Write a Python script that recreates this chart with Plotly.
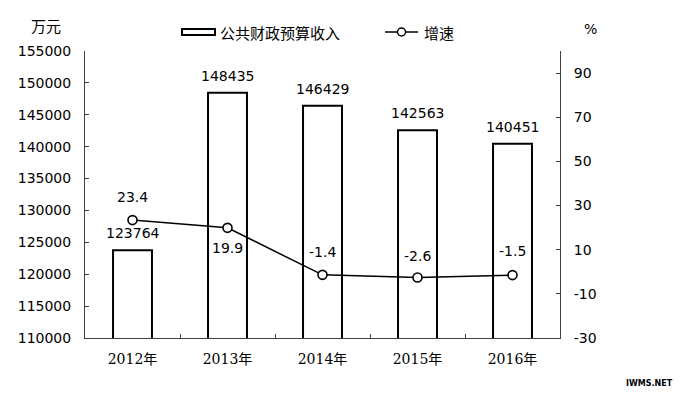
import plotly.graph_objects as go

categories = ["2012年", "2013年", "2014年", "2015年", "2016年"]
revenue = [123764, 148435, 146429, 142563, 140451]
growth = [23.4, 19.9, -1.4, -2.6, -1.5]
left_ticks = [110000, 115000, 120000, 125000, 130000, 135000, 140000, 145000, 150000, 155000]
right_ticks = [-30, -10, 10, 30, 50, 70, 90]

NUM_FONT = "DejaVu Sans, Liberation Sans, Arial, sans-serif"
CJK_FONT = "Noto Sans CJK SC, sans-serif"
CAT_FONT = "DejaVu Serif, Noto Sans CJK SC, serif"

fig = go.Figure()
fig.add_trace(go.Bar(
    x=categories, y=revenue, width=0.41,
    marker=dict(color="white", line=dict(color="black", width=2)),
    showlegend=False, hoverinfo="skip",
))
fig.add_trace(go.Scatter(
    x=categories, y=growth, yaxis="y2", mode="lines+markers",
    line=dict(color="black", width=1.5),
    marker=dict(symbol="circle", size=9, color="white", line=dict(color="black", width=1.6)),
    showlegend=False, hoverinfo="skip",
))

annotations = []
for c, v in zip(categories, revenue):
    annotations.append(dict(x=c, y=v, xref="x", yref="y", text=str(v), showarrow=False,
                            yshift=17, yanchor="middle", font=dict(family=NUM_FONT, size=14, color="black")))
label_shift = [23, -20, 23, 22, 24]
for c, v, s in zip(categories, growth, label_shift):
    annotations.append(dict(x=c, y=v, xref="x", yref="y2", text=f"{v:.1f}", showarrow=False,
                            yshift=s, yanchor="middle", font=dict(family=NUM_FONT, size=14, color="black")))

# page-pixel -> paper coordinates (plot area spans page x 85..560, y 51..338)
def px_x(p):
    return (p - 85) / 475.0

def px_y(p):
    return (338 - p) / 287.0

annotations += [
    dict(x=px_x(46), y=px_y(25), xref="paper", yref="paper", text="万元", showarrow=False,
         xanchor="center", yanchor="middle", font=dict(family=CJK_FONT, size=15, color="black")),
    dict(x=px_x(590), y=px_y(29), xref="paper", yref="paper", text="%", showarrow=False,
         xanchor="center", yanchor="middle", font=dict(family=NUM_FONT, size=14, color="black")),
    dict(x=px_x(218), y=px_y(32), xref="paper", yref="paper", text="公共财政预算收入", showarrow=False,
         xanchor="left", yanchor="middle", font=dict(family=CJK_FONT, size=15, color="black")),
    dict(x=px_x(422), y=px_y(32), xref="paper", yref="paper", text="增速", showarrow=False,
         xanchor="left", yanchor="middle", font=dict(family=CJK_FONT, size=15, color="black")),
    dict(x=px_x(649), y=px_y(383), xref="paper", yref="paper", text="<b>IWMS.NET</b>", showarrow=False,
         xanchor="center", yanchor="middle", font=dict(family=NUM_FONT, size=8, color="black")),
]

shapes = [
    dict(type="rect", xref="paper", yref="paper", x0=px_x(182), x1=px_x(215), y0=px_y(35), y1=px_y(29),
         line=dict(color="black", width=2), fillcolor="white"),
    dict(type="line", xref="paper", yref="paper", x0=px_x(385), x1=px_x(418), y0=px_y(32), y1=px_y(32),
         line=dict(color="black", width=1.5)),
    dict(type="circle", xref="paper", yref="paper", x0=px_x(397.5), x1=px_x(405.5), y0=px_y(36), y1=px_y(28),
         line=dict(color="black", width=1.5), fillcolor="white"),
]

# the page body has an 8px default margin, so the figure is drawn 8px smaller
fig.update_layout(
    width=677, height=387,
    margin=dict(l=77, r=125, t=43, b=57),
    paper_bgcolor="white", plot_bgcolor="white",
    bargap=0.59,
    annotations=annotations, shapes=shapes,
    xaxis=dict(
        type="category", showline=True, linecolor="#404040", linewidth=1,
        ticks="inside", ticklen=4, tickcolor="#404040", tickson="boundaries",
        showgrid=False, ticklabelstandoff=8, automargin=False,
        tickfont=dict(family=CAT_FONT, size=14, color="black"),
    ),
    yaxis=dict(
        range=[110000, 155000], tickvals=left_ticks, ticktext=[str(t) for t in left_ticks],
        showline=True, linecolor="#404040", linewidth=1,
        ticks="inside", ticklen=4, tickcolor="#404040",
        showgrid=False, zeroline=False, ticklabelstandoff=10, automargin=False,
        tickfont=dict(family=NUM_FONT, size=14, color="black"),
    ),
    yaxis2=dict(
        range=[-30, 100], tickvals=right_ticks, ticktext=[str(t) for t in right_ticks],
        overlaying="y", side="right",
        showline=True, linecolor="#404040", linewidth=1,
        ticks="inside", ticklen=4, tickcolor="#404040",
        showgrid=False, zeroline=False, ticklabelstandoff=10, automargin=False,
        tickfont=dict(family=NUM_FONT, size=14, color="black"),
    ),
)

fig.write_html("out.html")
